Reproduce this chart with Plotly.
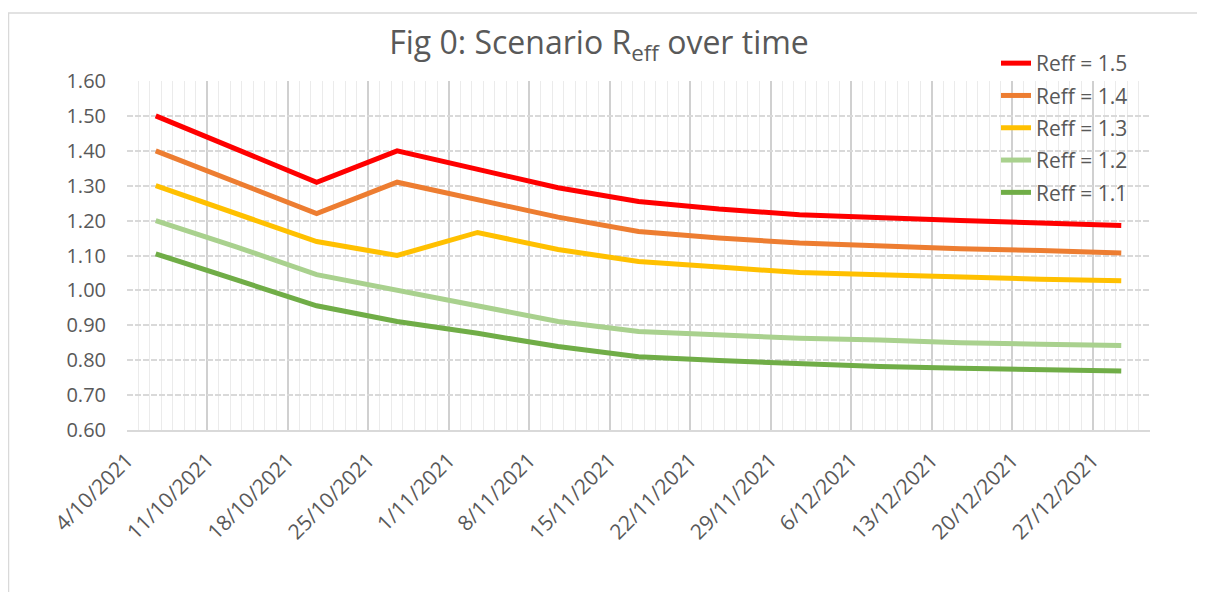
import pandas as pd
import plotly.graph_objects as go

# ---- data ----
dates = ["2021-10-06", "2021-10-13", "2021-10-20", "2021-10-27", "2021-11-03",
         "2021-11-10", "2021-11-17", "2021-11-24", "2021-12-01", "2021-12-08",
         "2021-12-15", "2021-12-22", "2021-12-29"]

reff_15 = [1.50, 1.405, 1.31, 1.40, 1.346, 1.294, 1.255, 1.233, 1.217, 1.207, 1.200, 1.193, 1.186]
reff_14 = [1.40, 1.31, 1.22, 1.31, 1.260, 1.210, 1.169, 1.150, 1.136, 1.126, 1.119, 1.114, 1.107]
reff_13 = [1.30, 1.22, 1.14, 1.10, 1.166, 1.117, 1.083, 1.067, 1.051, 1.045, 1.038, 1.032, 1.028]
reff_12 = [1.20, 1.125, 1.045, 1.00, 0.953, 0.911, 0.882, 0.873, 0.863, 0.858, 0.850, 0.846, 0.842]
reff_11 = [1.105, 1.03, 0.956, 0.911, 0.877, 0.839, 0.810, 0.799, 0.789, 0.782, 0.777, 0.772, 0.769]

series_names = ["Reff = 1.5", "Reff = 1.4", "Reff = 1.3", "Reff = 1.2", "Reff = 1.1"]
series_values = [reff_15, reff_14, reff_13, reff_12, reff_11]
series_colors = ["#FF0000", "#ED7D31", "#FFC000", "#A9D18E", "#70AD47"]

tick_labels = ["4/10/2021", "11/10/2021", "18/10/2021", "25/10/2021", "1/11/2021",
               "8/11/2021", "15/11/2021", "22/11/2021", "29/11/2021", "6/12/2021",
               "13/12/2021", "20/12/2021", "27/12/2021"]

# Excel date axis: each day occupies a slot; points sit at the slot centre,
# tick/grid lines sit at slot boundaries (half a day earlier).
half_day = pd.Timedelta(hours=12)
tick_vals = [pd.to_datetime(t, dayfirst=True) - half_day for t in tick_labels]
x_start = pd.Timestamp("2021-10-04") - half_day
x_end = pd.Timestamp("2022-01-01") - half_day

FONT = "Open Sans"
TXT = "#595959"

fig = go.Figure()
for i, (name, vals, col) in enumerate(zip(series_names, series_values, series_colors)):
    fig.add_trace(go.Scatter(
        x=pd.to_datetime(dates), y=vals, mode="lines", name=name,
        line=dict(color=col, width=5), legendgroup=f"g{i}",
    ))

W, H = 1205, 592
OFF = 8  # page body offset in the screenshot
# desired plot box in screen pixels
SX0, SX1, SY0, SY1 = 127, 1150, 81, 430
L = SX0 - OFF
T = SY0 - OFF
R = W - (SX1 - OFF)
B = H - (SY1 - OFF)
pw, ph = W - L - R, H - T - B


def px(sx):
    return (sx - SX0) / pw


def py(sy):
    return (SY1 - sy) / ph


fig.update_layout(
    width=W, height=H,
    margin=dict(l=L, r=R, t=T, b=B),
    paper_bgcolor="white", plot_bgcolor="white",
    font=dict(family=FONT, color=TXT, size=20),
    title=dict(text="Fig 0: Scenario R<sub>eff</sub> over time",
               x=(599 - OFF) / W, xref="container", xanchor="center",
               y=1 - (43 - OFF) / H, yref="container", yanchor="middle",
               font=dict(family=FONT, size=32, color=TXT)),
    legend=dict(x=px(996), xanchor="left", y=py(43), yanchor="top",
                bgcolor="rgba(0,0,0,0)", font=dict(family=FONT, size=21, color=TXT),
                tracegroupgap=2),
    showlegend=True,
)

fig.update_xaxes(
    type="date", range=[x_start, x_end],
    tickmode="array", tickvals=tick_vals, ticktext=tick_labels, tickangle=-45,
    showgrid=True, gridcolor="#D0D0D0", gridwidth=1.5,
    minor=dict(tickmode="linear", tick0=x_start, dtick=86400000,
               showgrid=True, gridcolor="#EBEBEB", gridwidth=1),
    showline=True, linecolor="#D9D9D9", linewidth=1.5,
    ticks="", ticklabelstandoff=8, zeroline=False,
    tickfont=dict(family=FONT, size=21, color=TXT),
)
fig.update_yaxes(
    range=[0.6, 1.6], dtick=0.1, tick0=0.6, tickformat=".2f",
    showgrid=True, gridcolor="#D9D9D9", gridwidth=1.5, griddash="6px,2px",
    showline=False, zeroline=False, ticks="", ticklabelstandoff=20,
    tickfont=dict(family=FONT, size=20, color=TXT),
)

# outer chart-area border
fig.add_shape(type="rect", xref="paper", yref="paper",
              x0=px(OFF + 0.5), x1=px(W + 20),
              y0=py(H + 20), y1=py(13),
              line=dict(color="#D9D9D9", width=1.5), fillcolor="rgba(0,0,0,0)",
              layer="below")

fig.write_html("out.html")
